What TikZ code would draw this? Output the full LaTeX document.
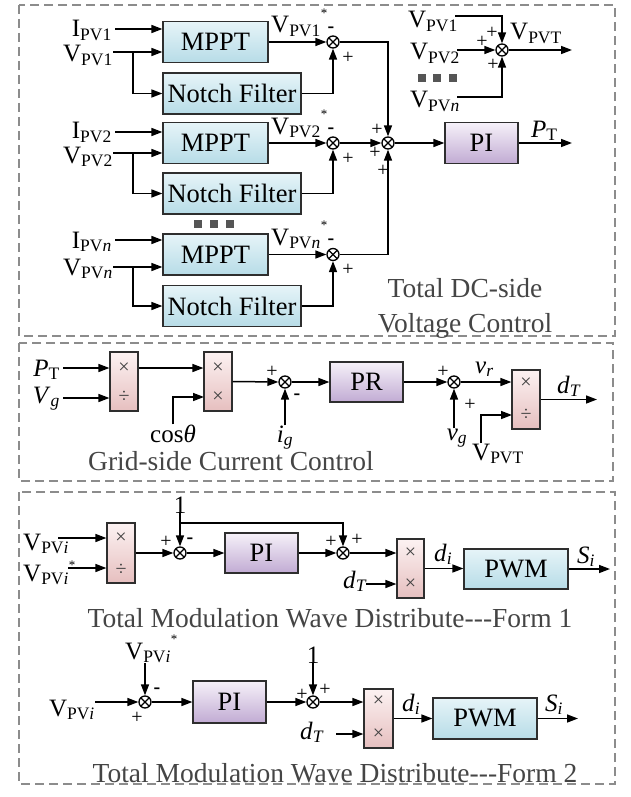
\documentclass[tikz,border=0pt]{standalone}
\usepackage{fontspec}
\setmainfont{Liberation Serif}
\usetikzlibrary{arrows.meta}
\definecolor{cyT}{HTML}{E6F4F8}
\definecolor{cyB}{HTML}{B7DCE7}
\definecolor{puT}{HTML}{F6F1F9}
\definecolor{puB}{HTML}{C1ABD3}
\definecolor{pkT}{HTML}{FCF2F2}
\definecolor{pkB}{HTML}{E6BFBF}
\definecolor{bord}{HTML}{2E2E2E}
\definecolor{dashc}{HTML}{8C8C8C}
\definecolor{ttlc}{HTML}{454545}
\definecolor{dotc}{HTML}{555555}
\newcommand\fB{\fontsize{25}{28}\selectfont}
\newcommand\fK{\fontsize{26.5}{28}\selectfont}
\newcommand\fS{\fontsize{20}{20}\selectfont}
\newcommand\fT{\fontsize{27.5}{33}\selectfont}
\newcommand\fX{\fontsize{20}{20}\selectfont}
\newcommand\sbs[1]{\textsubscript{#1}}
\newcommand\stsup{\textsuperscript{\fontsize{13}{13}\selectfont\raisebox{6pt}{*}}}
\newcommand\stsuplo{\textsuperscript{\fontsize{13}{13}\selectfont\raisebox{2pt}{*}}}
\begin{document}
\begin{tikzpicture}[x=1pt,y=-1pt,
  panel/.style={draw=dashc, line width=1.6pt, dash pattern=on 9pt off 5pt},
  blk/.style={draw=bord, line width=1.2pt, inner sep=0, font=\fK},
  cbox/.style={blk, top color=cyT, bottom color=cyB},
  pbox/.style={blk, top color=puT, bottom color=puB},
  xbox/.style={blk, top color=pkT, bottom color=pkB},
  xt/.style={inner sep=0, font=\fX, text=black!75},
  lab/.style={inner sep=0, font=\fB},
  sgn/.style={inner sep=0, font=\fS},
  ttl/.style={inner sep=0, font=\fT, text=ttlc},
  conn/.style={line width=1.5pt, -{Triangle[length=11pt,width=8pt]}},
  sqd/.style={fill=dotc, draw=none, minimum width=8pt, minimum height=8pt, inner sep=0},
  sumc/.style={circle, draw, line width=1.3pt, minimum size=12pt, inner sep=0, fill=white,
    path picture={\draw[line width=1.1pt] (path picture bounding box.north west) -- (path picture bounding box.south east)
      (path picture bounding box.north east) -- (path picture bounding box.south west);}}
]
\useasboundingbox (0,0) rectangle (630,797);
% panels
\draw[panel] (19,5) rectangle (615,336);
\draw[panel] (19,343) rectangle (613,481);
\draw[panel] (19,492) rectangle (615,784);

% ================= Panel 1
\node[cbox, minimum width=105pt, minimum height=41pt] (M1) at (215.5,42) {MPPT};
\node[cbox, minimum width=138pt, minimum height=41pt] (N1) at (232,93.5) {Notch Filter};
\node[cbox, minimum width=105pt, minimum height=41pt] (M2) at (215.5,143) {MPPT};
\node[cbox, minimum width=138pt, minimum height=41pt] (N2) at (232,193.5) {Notch Filter};
\node[cbox, minimum width=105pt, minimum height=41pt] (Mn) at (215.5,254.5) {MPPT};
\node[cbox, minimum width=138pt, minimum height=41pt] (Nn) at (232,306) {Notch Filter};

\node[lab, anchor=base east] (lI1) at (112,37) {I\sbs{PV1}};
\node[lab, anchor=base east] (lV1) at (113,62) {V\sbs{PV1}};
\node[lab, anchor=base east] (lI2) at (112,139) {I\sbs{PV2}};
\node[lab, anchor=base east] (lV2) at (113,163) {V\sbs{PV2}};
\node[lab, anchor=base east] (lIn) at (112,248) {I\sbs{PV\textit{n}}};
\node[lab, anchor=base east] (lVn) at (113,275) {V\sbs{PV\textit{n}}};

\coordinate (pI1) at (115,29);  \coordinate (pV1) at (113,52);  \coordinate (br1) at (133,52);
\coordinate (pI2) at (115,132); \coordinate (pV2) at (113,153); \coordinate (br2) at (133,153);
\coordinate (pIn) at (115,240); \coordinate (pVn) at (113,267); \coordinate (brn) at (133,267);
\draw[conn] (pI1) -- (pI1 -| M1.west);
\draw[conn] (pV1) -- (pV1 -| M1.west);
\draw[conn] (br1) |- (N1.west);
\draw[conn] (pI2) -- (pI2 -| M2.west);
\draw[conn] (pV2) -- (pV2 -| M2.west);
\draw[conn] (br2) |- (N2.west);
\draw[conn] (pIn) -- (pIn -| Mn.west);
\draw[conn] (pVn) -- (pVn -| Mn.west);
\draw[conn] (brn) |- (Nn.west);

\node[sumc] (s1) at (333,42) {};
\node[sumc] (s2) at (333,143) {};
\node[sumc] (sn) at (333,254.5) {};
\node[sumc] (st) at (388,143) {};

\node[lab, anchor=base west] (lo1) at (271,33) {V\sbs{PV1}\stsup};
\node[lab, anchor=base west] (lo2) at (271,134) {V\sbs{PV2}\stsup};
\node[lab, anchor=base west] (lon) at (271,245) {V\sbs{PV\textit{n}}\stsup};

\draw[conn] (M1.east) -- (s1.west);
\draw[conn] (M2.east) -- (s2.west);
\draw[conn] (Mn.east) -- (sn.west);
\draw[conn] (N1.east) -| (s1.south);
\draw[conn] (N2.east) -| (s2.south);
\draw[conn] (Nn.east) -| (sn.south);
\draw[conn] (s1.east) -| (st.north);
\draw[conn] (s2.east) -- (st.west);
\draw[conn] (sn.east) -| (st.south);

\node[sgn] (s1m) at (331,30) {\textbf{-}};
\node[sgn] (s1p) at (348,58) {+};
\node[sgn] (s2m) at (331,131) {\textbf{-}};
\node[sgn] (s2p) at (348,159) {+};
\node[sgn] (snm) at (331,242) {\textbf{-}};
\node[sgn] (snp) at (348,270) {+};
\node[sgn] (stp1) at (377,130) {+};
\node[sgn] (stp2) at (375,153) {+};
\node[sgn] (stp3) at (383,171) {+};

\node[pbox, minimum width=73pt, minimum height=41pt] (PI1) at (481.5,143) {PI};
\coordinate (oPT) at (572,143);
\draw[conn] (st.east) -- (PI1.west);
\draw[conn] (PI1.east) -- (oPT);
\node[lab, anchor=base west] (lPT) at (531,137) {\textit{P}\sbs{T}};

% VPVT sum
\node[sumc] (sv) at (502,50) {};
\node[lab, anchor=base east] (lw1) at (458,28) {V\sbs{PV1}};
\node[lab, anchor=base east] (lw2) at (460,60) {V\sbs{PV2}};
\node[lab, anchor=base east] (lwn) at (460,108) {V\sbs{PV\textit{n}}};
\coordinate (w1) at (455,16);
\coordinate (w2) at (457,50);
\coordinate (wn) at (457,97);
\coordinate (oVT) at (572,50);
\draw[conn] (w1) -| (sv.north);
\draw[conn] (w2) -- (sv.west);
\draw[conn] (wn) -| (sv.south);
\draw[conn] (sv.east) -- (oVT);
\node[lab, anchor=base west] (lVT) at (510,40) {V\sbs{PVT}};
\node[sgn] (svp1) at (492,33) {+};
\node[sgn] (svp2) at (482,42) {+};
\node[sgn] (svp3) at (493,65) {+};

\node[sqd] (d1) at (422,78) {};
\node[sqd] (d2) at (437,78) {};
\node[sqd] (d3) at (453,78) {};
\node[sqd] (d4) at (198,224) {};
\node[sqd] (d5) at (214,224) {};
\node[sqd] (d6) at (230,224) {};

\node[ttl, anchor=base] (t1a) at (465,297) {Total DC-side};
\node[ttl, anchor=base] (t1b) at (465,332) {Voltage Control};

% ================= Panel 2
\node[xbox, minimum width=28pt, minimum height=59pt] (m1) at (124,381.5) {};
\node[xt] (m1a) at (124,368) {×};
\node[xt] (m1b) at (124,397) {÷};
\node[xbox, minimum width=28pt, minimum height=59pt] (m2) at (218,381.5) {};
\node[xt] (m2a) at (218,368) {×};
\node[xt] (m2b) at (218,397) {×};
\node[lab, anchor=base east] (lPT2) at (60,376) {\textit{P}\sbs{T}};
\node[lab, anchor=base east] (lVg) at (60,403) {\textit{V}\sbs{\textit{g}}};
\coordinate (pPT) at (63,368);
\coordinate (pVg) at (63,398);
\coordinate (pc) at (204,397);
\draw[conn] (pPT) -- (pPT -| m1.west);
\draw[conn] (pVg) -- (pVg -| m1.west);
\draw[conn] (m1.east |- pPT) -- (m2.west |- pPT);
\node[lab, anchor=base] (lcos) at (173,442) {cos\textit{θ}};
\draw[conn] (lcos.north) |- (pc);

\node[sumc] (g1) at (285,382) {};
\draw[conn] (m2.east) -- (g1.west);
\node[lab, anchor=base] (lig) at (285,442) {\textit{i}\sbs{\textit{g}}};
\draw[conn] (lig.north -| g1) -- (g1.south);
\node[sgn] (g1p) at (272,372) {+};
\node[sgn] (g1m) at (297,397) {\textbf{-}};

\node[pbox, minimum width=73pt, minimum height=40pt] (PR) at (366.5,382) {PR};
\draw[conn] (g1.east) -- (PR.west);
\node[sumc] (g2) at (454,382) {};
\draw[conn] (PR.east) -- (g2.west);
\node[lab, anchor=base] (lvg) at (457,440) {\textit{v}\sbs{\textit{g}}};
\draw[conn] (lvg.north -| g2) -- (g2.south);
\node[sgn] (g2p1) at (443,372) {+};
\node[sgn] (g2p2) at (470,405) {+};

\node[xbox, minimum width=28pt, minimum height=59pt] (m3) at (526,399.5) {};
\node[xt] (m3a) at (526,383) {×};
\node[xt] (m3b) at (526,415) {÷};
\draw[conn] (g2.east) -- (g2 -| m3.west);
\node[lab, anchor=base west] (lvr) at (475,373) {\textit{v}\sbs{\textit{r}}};
\node[lab, anchor=base west] (lVT2) at (472,460) {V\sbs{PVT}};
\coordinate (pvt) at (481,443);
\coordinate (m3i2) at (512,415);
\draw[conn] (pvt) |- (m3i2);
\coordinate (odT) at (597,399.5);
\draw[conn] (m3.east) -- (odT);
\node[lab, anchor=base west] (ldT) at (557,393) {\textit{d}\sbs{\textit{T}}};
\node[ttl, anchor=base] (t2) at (231,470) {Grid-side Current Control};

% ================= Panel 3, form 1
\node[lab, anchor=base west] (lp1) at (23,550) {V\sbs{PV\textit{i}}};
\node[lab, anchor=base west] (lp2) at (23,581) {V\sbs{PV\textit{i}}\stsuplo};
\node[xbox, minimum width=28pt, minimum height=60pt] (a1) at (121,553) {};
\node[xt] (a1a) at (121,538) {×};
\node[xt] (a1b) at (121,570) {÷};
\coordinate (pa1) at (58,538);
\coordinate (pa2) at (68,568);
\draw[conn] (pa1) -- (pa1 -| a1.west);
\draw[conn] (pa2) -- (pa2 -| a1.west);
\node[sumc] (f1) at (180,553) {};
\draw[conn] (a1.east) -- (f1.west);
\node[lab, anchor=base] (l1a) at (180,513) {1};
\coordinate (j1) at (180,523);
\node[pbox, minimum width=73pt, minimum height=40pt] (PI2) at (261.5,553) {PI};
\node[sumc] (f2) at (343,553) {};
\draw[conn] (l1a.south) -- (f1.north);
\draw[conn] (j1) -| (f2.north);
\draw[conn] (f1.east) -- (PI2.west);
\draw[conn] (PI2.east) -- (f2.west);
\node[sgn] (f1p) at (166,542) {+};
\node[sgn] (f1m) at (190,541) {\textbf{-}};
\node[sgn] (f2p1) at (331,542) {+};
\node[sgn] (f2p2) at (357,540) {+};
\node[xbox, minimum width=27pt, minimum height=59pt] (a2) at (410.5,568.5) {};
\node[xt] (a2a) at (410.5,553) {×};
\node[xt] (a2b) at (410.5,584) {×};
\draw[conn] (f2.east) -- (f2 -| a2.west);
\node[lab, anchor=base west] (ldT1) at (343,588) {\textit{d}\sbs{\textit{T}}};
\coordinate (pd1) at (366,584);
\draw[conn] (pd1) -- (pd1 -| a2.west);
\node[cbox, minimum width=104pt, minimum height=40pt] (PWM1) at (516,569) {PWM};
\draw[conn] (a2.east) -- (a2.east -| PWM1.west);
\coordinate (oS1) at (610,569);
\draw[conn] (PWM1.east) -- (oS1);
\node[lab, anchor=base west] (ldi1) at (434,561) {\textit{d}\sbs{\textit{i}}};
\node[lab, anchor=base west] (lS1) at (577,563) {\textit{S}\sbs{\textit{i}}};
\node[ttl, anchor=base] (t3) at (330,627) {Total Modulation Wave Distribute-{}-{}-Form 1};

% ================= Panel 3, form 2
\node[sumc] (h1) at (145,702) {};
\node[lab, anchor=base east] (lq1) at (95,716) {V\sbs{PV\textit{i}}};
\node[lab, anchor=base west] (lq2) at (125,659) {V\sbs{PV\textit{i}}\stsup};
\coordinate (pq1) at (95,702);
\coordinate (pq2) at (145,663);
\draw[conn] (pq1) -- (h1.west);
\draw[conn] (pq2) -- (h1.north);
\node[sgn] (h1p) at (137,718) {+};
\node[sgn] (h1m) at (157,691) {\textbf{-}};
\node[pbox, minimum width=73pt, minimum height=42pt] (PI3) at (229.5,702) {PI};
\draw[conn] (h1.east) -- (PI3.west);
\node[sumc] (h2) at (313,702) {};
\draw[conn] (PI3.east) -- (h2.west);
\node[lab, anchor=base] (l1b) at (313,663) {1};
\draw[conn] (l1b.south) -- (h2.north);
\node[sgn] (h2p1) at (302,695) {+};
\node[sgn] (h2p2) at (325,690) {+};
\node[xbox, minimum width=29pt, minimum height=59pt] (a3) at (378.5,718.5) {};
\node[xt] (a3a) at (378.5,701) {×};
\node[xt] (a3b) at (378.5,734) {×};
\draw[conn] (h2.east) -- (h2 -| a3.west);
\node[lab, anchor=base west] (ldT2) at (300,739) {\textit{d}\sbs{\textit{T}}};
\coordinate (pd2) at (336,734);
\draw[conn] (pd2) -- (pd2 -| a3.west);
\node[cbox, minimum width=104pt, minimum height=41pt] (PWM2) at (485,718.5) {PWM};
\draw[conn] (a3.east) -- (a3.east -| PWM2.west);
\coordinate (oS2) at (578,718.5);
\draw[conn] (PWM2.east) -- (oS2);
\node[lab, anchor=base west] (ldi2) at (402,711) {\textit{d}\sbs{\textit{i}}};
\node[lab, anchor=base west] (lS2) at (545,711) {\textit{S}\sbs{\textit{i}}};
\node[ttl, anchor=base] (t4) at (335,782) {Total Modulation Wave Distribute-{}-{}-Form 2};
\end{tikzpicture}
\end{document}
